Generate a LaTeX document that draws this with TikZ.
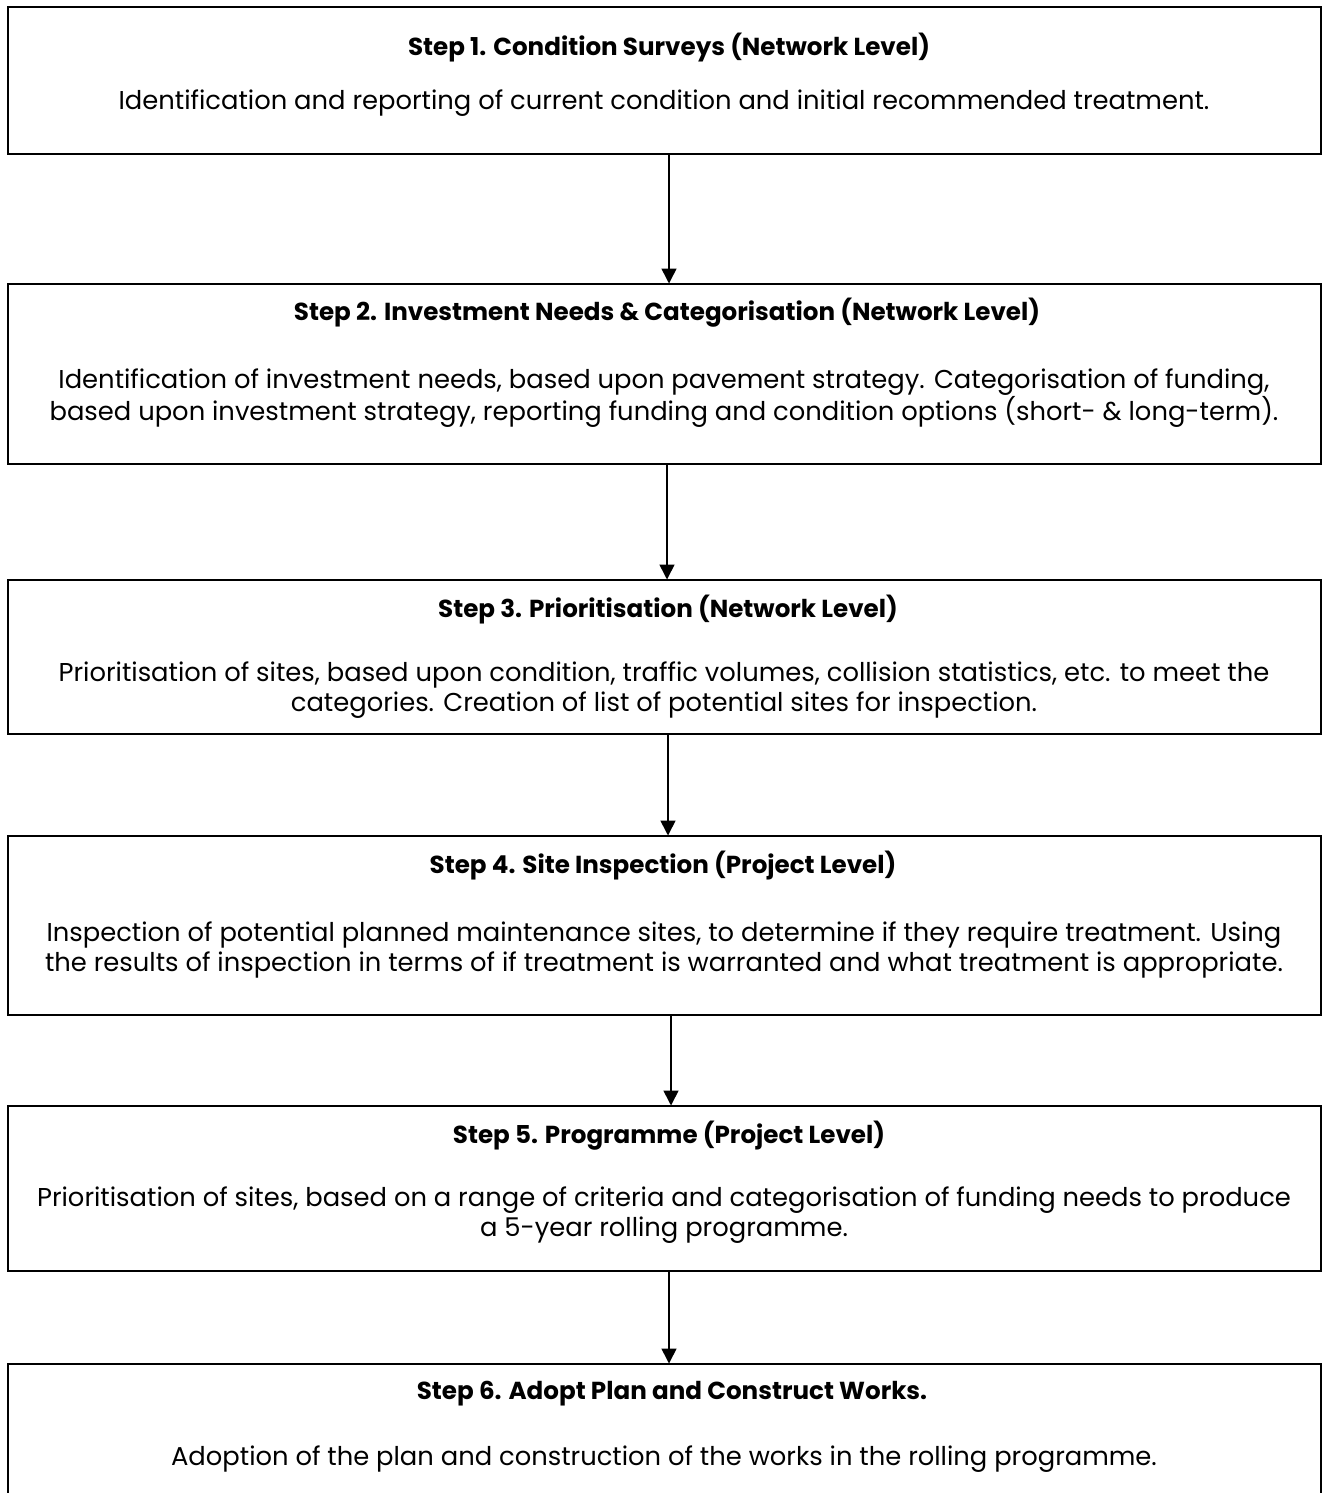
\documentclass[tikz,border=0pt]{standalone}
\usepackage{fontspec}
\setmainfont{Poppins}
\usetikzlibrary{arrows.meta}
\tikzset{
  stepbox/.style={draw=black, line width=1.8pt, minimum width=1313pt, inner sep=0pt, outer sep=0pt},
  head/.style={font=\fontsize{24.6}{28}\selectfont\bfseries, inner sep=0pt},
  body/.style={font=\fontsize{25.8}{30}\selectfont, align=center, inner sep=0pt},
  arr/.style={line width=1.6pt, -{Triangle[length=15pt,width=15pt]}, shorten >=0.5pt},
}
\begin{document}
\begin{tikzpicture}[x=1pt,y=-1pt]
\useasboundingbox (0,0) rectangle (1322,1493);
% boxes
\node[stepbox, minimum height=147pt] (b1) at (664.5,80.5) {};
\node[stepbox, minimum height=180pt] (b2) at (664.5,374) {};
\node[stepbox, minimum height=154pt] (b3) at (664.5,657) {};
\node[stepbox, minimum height=179pt] (b4) at (664.5,925.5) {};
\node[stepbox, minimum height=165pt] (b5) at (664.5,1188.5) {};
\node[stepbox, minimum height=134pt] (b6) at (664.5,1431) {};
% texts
\node[head] (h1) at (669,48) {Step 1. Condition Surveys (Network Level)};
\node[body] (t1) at (664,103) {Identification and reporting of current condition and initial recommended treatment.};
\node[head] (h2) at (667,313) {Step 2. Investment Needs \& Categorisation (Network Level)};
\node[body] (t2) at (664,398) {Identification of investment needs, based upon pavement strategy. Categorisation of funding,\\ based upon investment strategy, reporting funding and condition options (short- \& long-term).};
\node[head] (h3) at (668,610) {Step 3. Prioritisation (Network Level)};
\node[body] (t3) at (664,690) {Prioritisation of sites, based upon condition, traffic volumes, collision statistics, etc. to meet the\\ categories. Creation of list of potential sites for inspection.};
\node[head] (h4) at (663,866) {Step 4. Site Inspection (Project Level)};
\node[body] (t4) at (664,950) {Inspection of potential planned maintenance sites, to determine if they require treatment. Using\\ the results of inspection in terms of if treatment is warranted and what treatment is appropriate.};
\node[head] (h5) at (669,1136) {Step 5. Programme (Project Level)};
\node[body] (t5) at (664,1215) {Prioritisation of sites, based on a range of criteria and categorisation of funding needs to produce\\ a 5-year rolling programme.};
\node[head] (h6) at (672,1394) {Step 6. Adopt Plan and Construct Works.};
\node[body] (t6) at (664,1459) {Adoption of the plan and construction of the works in the rolling programme.};
% connectors
\draw[arr] ([xshift=4.5pt]b1.south) -- ([xshift=4.5pt]b2.north);
\draw[arr] ([xshift=2.5pt]b2.south) -- ([xshift=2.5pt]b3.north);
\draw[arr] ([xshift=3.5pt]b3.south) -- ([xshift=3.5pt]b4.north);
\draw[arr] ([xshift=6.5pt]b4.south) -- ([xshift=6.5pt]b5.north);
\draw[arr] ([xshift=4.5pt]b5.south) -- ([xshift=4.5pt]b6.north);
\end{tikzpicture}
\end{document}
